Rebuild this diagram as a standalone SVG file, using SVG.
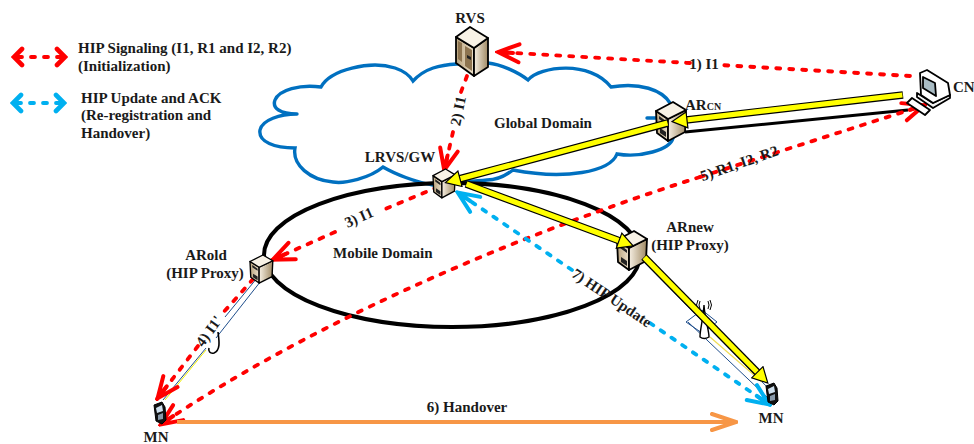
<svg xmlns="http://www.w3.org/2000/svg" width="974" height="444" viewBox="0 0 974 444">
<style>
text{font-family:"Liberation Serif","Times New Roman",serif;font-weight:bold;font-size:15px;fill:#1a1a1a}
.m{text-anchor:middle}
.red{fill:none;stroke:#f00;stroke-width:3.8;stroke-dasharray:4 9;stroke-linecap:round}
.blue{fill:none;stroke:#00b0f0;stroke-width:3.8;stroke-dasharray:4 9;stroke-linecap:round}
.thin{fill:none;stroke:#1f4e8c;stroke-width:1}
.yo{fill:none;stroke:#000;stroke-width:7.6}
.yi{fill:none;stroke:#ff0;stroke-width:5.2}
.s{stroke:#000;stroke-width:1.8;stroke-linejoin:round}
</style>
<defs>
<linearGradient id="f1" x1="0" x2="1" y1="0" y2="0"><stop offset="0" stop-color="#b8a27c"/><stop offset="1" stop-color="#ece0cb"/></linearGradient>
<linearGradient id="f2" x1="0" x2="1" y1="0" y2="0"><stop offset="0" stop-color="#f6efe3"/><stop offset="1" stop-color="#a08a64"/></linearGradient>
<g id="box">
<path class="s" fill="url(#f1)" d="M0,9 L12,17 L12,39 L1,31Z"/>
<path class="s" fill="url(#f2)" d="M12,17 L30,8 L29,30 L12,39Z"/>
<path class="s" fill="#f8f2e6" d="M0,9 L17,0 L30,8 L12,17Z"/>
<path fill="#222" d="M3,14 L10,19 L10,22 L3,17Z M4,26 L10,30 L10,35 L4,31Z"/>
</g>
<g id="phone">
<path fill="#111" stroke="#000" d="M0,3 L8,0 L11,5 L12,18 L8,22 L2,19Z"/>
<path fill="#cfe0ee" d="M2,6 L8,3 L9,9 L3,11Z"/>
<path fill="#8899aa" d="M4,13 L9,11 L9,17 L4,18Z"/>
</g>
<marker id="rh" viewBox="0 0 28 24" refX="26" refY="12" markerWidth="28" markerHeight="24" markerUnits="userSpaceOnUse" orient="auto-start-reverse">
<path d="M4,3 L25,12 L4,21 M10,12 L25,12" fill="none" stroke="#f00" stroke-width="4" stroke-linecap="round" stroke-linejoin="miter"/></marker>
<marker id="bh" viewBox="0 0 28 24" refX="26" refY="12" markerWidth="28" markerHeight="24" markerUnits="userSpaceOnUse" orient="auto-start-reverse">
<path d="M4,3 L25,12 L4,21 M10,12 L25,12" fill="none" stroke="#00b0f0" stroke-width="4" stroke-linecap="round"/></marker>
<marker id="rl" viewBox="0 0 14 22" refX="10" refY="11" markerWidth="14" markerHeight="22" markerUnits="userSpaceOnUse" orient="auto-start-reverse">
<path d="M3,3 L11,11 L3,19" fill="none" stroke="#f00" stroke-width="4.6" stroke-linecap="round"/></marker>
<marker id="bl" viewBox="0 0 14 22" refX="10" refY="11" markerWidth="14" markerHeight="22" markerUnits="userSpaceOnUse" orient="auto-start-reverse">
<path d="M3,3 L11,11 L3,19" fill="none" stroke="#00b0f0" stroke-width="4.6" stroke-linecap="round"/></marker>
<marker id="oh" viewBox="0 0 28 20" refX="26" refY="10" markerWidth="28" markerHeight="20" markerUnits="userSpaceOnUse" orient="auto">
<path d="M2,2 L26,10 L2,18" fill="none" stroke="#f79646" stroke-width="4" stroke-linecap="round"/></marker>
<marker id="yh" viewBox="0 0 18 18" refX="2" refY="9" markerWidth="18" markerHeight="18" markerUnits="userSpaceOnUse" orient="auto">
<path d="M1,1 L16,9 L1,17Z" fill="#ff0" stroke="#000" stroke-width="1.2"/></marker>
</defs>

<g id="legend">
<path class="red" stroke-dashoffset="-3" d="M15,57 H64" marker-start="url(#rl)" marker-end="url(#rl)"/>
<text x="78" y="53">HIP Signaling (I1, R1 and I2, R2)</text>
<text x="78" y="71">(Initialization)</text>
<path class="blue" stroke-dashoffset="-3" d="M14,103 H63" marker-start="url(#bl)" marker-end="url(#bl)"/>
<text x="81" y="103">HIP Update and ACK</text>
<text x="81" y="120">(Re-registration and</text>
<text x="81" y="138">Handover)</text>
</g>

<g id="global-domain">
<path fill="none" stroke="#0070c0" stroke-width="3.4" stroke-linecap="round" d="M297,114 C280,114 272,108 275,100 C279,90 300,84 321,87 C330,70 370,60 395,68 C404,71 410,76 413,81 C425,68 440,65 457,64 L488,63 C500,64 518,72 528,80 C540,66 590,60 611,87 C640,82 662,90 670,103 M673,138 C670,150 640,158 617,154 C610,172 565,180 513,170 C505,176 495,180 487,180 C470,182 450,182 433,185 C415,182 395,174 383,167 C370,178 345,184 333,182 C310,180 292,165 295,148 C275,148 258,142 260,130 C262,120 280,114 297,114 M647,118 H662"/>
<text x="494" y="128">Global Domain</text>
</g>

<g id="mobile-domain">
<ellipse cx="452" cy="255" rx="188" ry="72" fill="none" stroke="#000" stroke-width="4"/>
<text x="333" y="258">Mobile Domain</text>
</g>

<g id="connectors">
<path d="M685,132 L908,110" fill="none" stroke="#000" stroke-width="3"/>
<path class="thin" d="M262,272 L225,317 M268,272 L216,338"/>
<path d="M206,350 L165,400" stroke="#ee0" stroke-width="1" fill="none"/>
<path class="thin" d="M206,348 L163,400"/>
<path class="thin" d="M640,258 L772,392 M688,322 L768,398"/>
<path d="M710,337 L762,382" stroke="#eedd55" stroke-width="1.2" fill="none"/>
<path class="red" d="M690,63 L497,52" marker-end="url(#rh)"/>
<path class="red" d="M910,76 L720,65"/>
<path class="red" d="M467,76 L461,92"/>
<path class="red" d="M453,132 L444,171" marker-end="url(#rh)"/>
<path class="red" d="M438,187 L378,212"/>
<path class="red" d="M335,232 L272,260" marker-end="url(#rh)"/>
<path class="red" d="M262,269 L222,314"/>
<path class="red" d="M198,346 L157,399" marker-end="url(#rh)"/>
<path class="red" d="M700,177 L925,105" marker-end="url(#rh)"/>
<path class="red" d="M700,177 C500,240 300,330 160,425" marker-end="url(#rh)"/>
<path class="blue" d="M572,270 L457,192" marker-end="url(#bh)"/>
<path class="blue" d="M650,323 L770,405" marker-end="url(#bh)"/>
<path d="M177,422 H736" fill="none" stroke="#f79646" stroke-width="4" marker-end="url(#oh)"/>
</g>

<g id="node-rvs"><text x="470" y="23" class="m">RVS</text>
<path class="s" fill="url(#f1)" d="M456,37 L474,48 V76 L456,63Z"/>
<path class="s" fill="url(#f2)" d="M474,48 L488,38 V67 L474,76Z"/>
<path class="s" fill="#f8f2e6" d="M456,37 L470,27 L488,38 L474,48Z"/>
<path fill="#8d7450" d="M458,41 L462,43 V62 L458,59Z M465,46 L472,50 V71 L465,66Z"/>
<path fill="#222" d="M467,55 L471,57 V60 L467,58Z"/></g>
<g id="node-arcn"><use href="#box" transform="translate(656,102)"/><text x="685" y="110">AR<tspan font-size="10">CN</tspan></text></g>
<g id="node-lrvs"><text x="400" y="162" class="m">LRVS/GW</text><use href="#box" transform="translate(433,169) scale(0.74,0.74)"/></g>
<g id="node-arold"><use href="#box" transform="translate(250,255) scale(0.76,0.72)"/><text x="206" y="260" class="m">ARold</text><text x="205" y="278" class="m">(HIP Proxy)</text></g>
<g id="node-arnew"><use href="#box" transform="translate(617,231)"/><text x="690" y="232" class="m">ARnew</text><text x="690" y="250" class="m">(HIP Proxy)</text></g>
<g id="node-cn">
<path class="s" fill="#f4f4f4" d="M917,93 L933,103 L950,95 V98 L933,108 L917,97Z"/>
<path class="s" fill="#fff" d="M920,73 L927,70 L948,83 L950,95 L933,103 L921,95Z"/>
<path class="s" fill="#a9bcc4" d="M923,77 L935,83 L936,96 L923,88Z"/>
<path class="s" fill="#fff" d="M912,98 L930,110 L925,115 L907,103Z"/>
<text x="953" y="92">CN</text></g>
<g id="node-mn-old"><use href="#phone" transform="translate(154,402)"/><text x="156" y="442" class="m">MN</text></g>
<g id="node-mn-new"><use href="#phone" transform="translate(766,383)"/><text x="771" y="423" class="m">MN</text></g>

<g id="antenna">
<path class="thin" d="M686,322 L702,310 L717,322 L702,333Z"/>
<path d="M704,305 C705,320 709,330 709,337 Q704,340 700,337 C700,330 703,320 704,305Z" fill="#fff" stroke="#000" stroke-width="1.4"/>
<path d="M700,301 Q698,305 700,309 M698,300 Q695,305 698,310 M708,301 Q710,305 708,309 M710,300 Q713,305 710,310" fill="none" stroke="#000"/>
<path d="M218,332 C219,340 221,350 214,353 C210,354 208,351 209,348" fill="none" stroke="#000" stroke-width="1.6"/>
</g>

<g id="yellow-links">
<path class="yo" d="M903,95 L686,120"/><path class="yi" d="M902.400,95 L686,120" marker-end="url(#yh)"/>
<path class="yo" d="M668,123 L459,179"/><path class="yi" d="M667.500,123 L459,179" marker-end="url(#yh)"/>
<path class="yo" d="M466,184 L620,241"/><path class="yi" d="M466.500,184 L620,241" marker-end="url(#yh)"/>
<path class="yo" d="M644,257 L758,373"/><path class="yi" d="M644.400,257.400 L758,373" marker-end="url(#yh)"/>
</g>

<g id="labels">
<text x="704" y="69" class="m">1) I1</text>
<text transform="translate(463,112) rotate(-78)" class="m">2) I1</text>
<text transform="translate(361,222) rotate(-24)" class="m">3) I1</text>
<text transform="translate(213,334) rotate(-54)" class="m">4) I1'</text>
<text transform="translate(741,168) rotate(-19)" class="m">5) R1, I2, R2</text>
<text x="467" y="412" class="m">6) Handover</text>
<text transform="translate(609,302) rotate(34)" class="m">7) HIP Update</text>
</g>
</svg>
